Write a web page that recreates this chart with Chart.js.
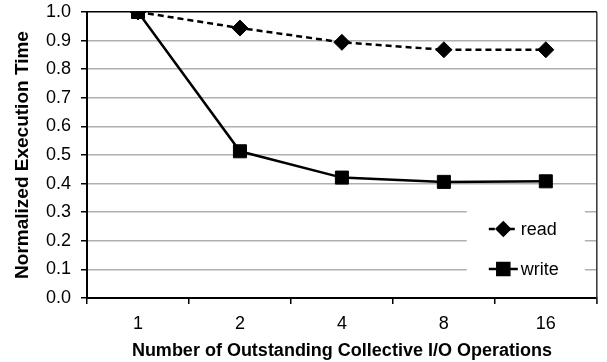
<!DOCTYPE html>
<html>
<head>
<meta charset="utf-8">
<script src="https://cdn.jsdelivr.net/npm/chart.js@4/dist/chart.umd.min.js"></script>
<style>
  html, body { margin: 0; padding: 0; background: #fff; }
  #wrap { width: 607px; height: 362px; position: relative; }
</style>
</head>
<body>
<div id="wrap"><canvas id="c" width="607" height="362"></canvas></div>
<script>
// Outstanding collective I/O operations (x categories)
const categories = ['1', '2', '4', '8', '16'];
// Normalized execution time per series
const readTimes  = [1.0, 0.944, 0.894, 0.868, 0.868];
const writeTimes = [1.0, 0.513, 0.421, 0.406, 0.408];
// Y axis ticks
const yTicks = [0.0, 0.1, 0.2, 0.3, 0.4, 0.5, 0.6, 0.7, 0.8, 0.9, 1.0];

const FONT = "'Liberation Sans', Arial, sans-serif";

// Right-hand frame line of the plot area
const frameLine = {
  id: 'frameLine',
  beforeDatasetsDraw(chart) {
    const { ctx, chartArea: a } = chart;
    ctx.save();
    ctx.strokeStyle = '#333';
    ctx.lineWidth = 1.5;
    ctx.beginPath();
    ctx.moveTo(a.right, a.top);
    ctx.lineTo(a.right, a.bottom + 6);
    ctx.stroke();
    ctx.restore();
  }
};

// Legend box drawn inside the lower right of the plot area
const insideLegend = {
  id: 'insideLegend',
  beforeDatasetsDraw(chart) {
    const { ctx, chartArea: a } = chart;
    const boxW = 118, boxH = 80;
    const bx = a.right - 12 - boxW, by = a.bottom - 10 - boxH;
    ctx.save();
    ctx.fillStyle = '#fff';
    ctx.fillRect(bx, by, boxW, boxH);
    chart.data.datasets.forEach((ds, i) => {
      const y = by + 21 + i * 40;
      const x0 = bx + 22, x1 = bx + 51;
      ctx.strokeStyle = ds.borderColor;
      ctx.lineWidth = 2.5;
      ctx.setLineDash(ds.borderDash || []);
      ctx.beginPath();
      ctx.moveTo(x0, y);
      ctx.lineTo(x1, y);
      ctx.stroke();
      ctx.setLineDash([]);
      Chart.helpers.drawPoint(ctx, {
        pointStyle: ds.pointStyle,
        radius: ds.pointStyle === 'rect' ? 8.5 : 6.5,
        rotation: 0,
        borderWidth: 1
      }, (x0 + x1) / 2, y);
      ctx.fillStyle = '#000';
      ctx.fill();
      ctx.font = '18px ' + FONT;
      ctx.textBaseline = 'middle';
      ctx.textAlign = 'left';
      ctx.fillText(ds.label, x1 + 3, y + 1);
    });
    ctx.restore();
  }
};

new Chart(document.getElementById('c'), {
  type: 'line',
  data: {
    labels: categories,
    datasets: [
      {
        label: 'read',
        data: readTimes,
        borderColor: '#000',
        backgroundColor: '#000',
        borderWidth: 2.5,
        borderDash: [6, 4],
        pointStyle: 'rectRot',
        pointRadius: 8,
        pointBorderWidth: 1,
        pointBackgroundColor: '#000',
        pointBorderColor: '#000',
        tension: 0
      },
      {
        label: 'write',
        data: writeTimes,
        borderColor: '#000',
        backgroundColor: '#000',
        borderWidth: 2.5,
        pointStyle: 'rect',
        pointRadius: 9.2,
        pointBorderWidth: 1,
        pointBackgroundColor: '#000',
        pointBorderColor: '#000',
        tension: 0
      }
    ]
  },
  options: {
    responsive: false,
    animation: false,
    devicePixelRatio: 1,
    layout: { padding: { left: 0, top: 12, right: 8, bottom: 0 } },
    plugins: {
      legend: { display: false },
      tooltip: { enabled: false }
    },
    scales: {
      x: {
        offset: true,
        grid: {
          offset: true,
          drawOnChartArea: false,
          drawTicks: true,
          tickLength: 6,
          tickColor: '#000',
          lineWidth: 1.5
        },
        border: { display: true, color: '#000', width: 2 },
        ticks: {
          color: '#000',
          padding: 9,
          font: { family: FONT, size: 18 }
        },
        title: {
          display: true,
          text: 'Number of Outstanding Collective I/O Operations',
          color: '#000',
          font: { family: FONT, size: 18, weight: 'bold', lineHeight: 1.2 },
          padding: { top: 0, bottom: 0 }
        },
        afterFit(scale) {
          scale.height = 64;
          scale.paddingLeft = 0;
          scale.paddingRight = 0;
        }
      },
      y: {
        min: 0,
        max: 1,
        afterBuildTicks(scale) { scale.ticks = yTicks.map(v => ({ value: v })); },
        grid: {
          color: ctx => (ctx.tick && ctx.tick.value === 1 ? '#000' : '#b0b0b0'),
          lineWidth: 1.5,
          tickLength: 6,
          tickColor: '#000'
        },
        border: { display: true, color: '#000', width: 2 },
        ticks: {
          color: '#000',
          padding: 10,
          font: { family: FONT, size: 18 },
          callback: v => Number(v).toFixed(1)
        },
        title: {
          display: true,
          text: 'Normalized Execution Time',
          color: '#000',
          font: { family: FONT, size: 19, weight: 'bold', lineHeight: 1.2 },
          padding: { top: 11, bottom: 0 }
        },
        afterFit(scale) {
          scale.width = 87;
          scale.paddingTop = 0;
          scale.paddingBottom = 0;
        }
      }
    }
  },
  plugins: [frameLine, insideLegend]
});
</script>
</body>
</html>
